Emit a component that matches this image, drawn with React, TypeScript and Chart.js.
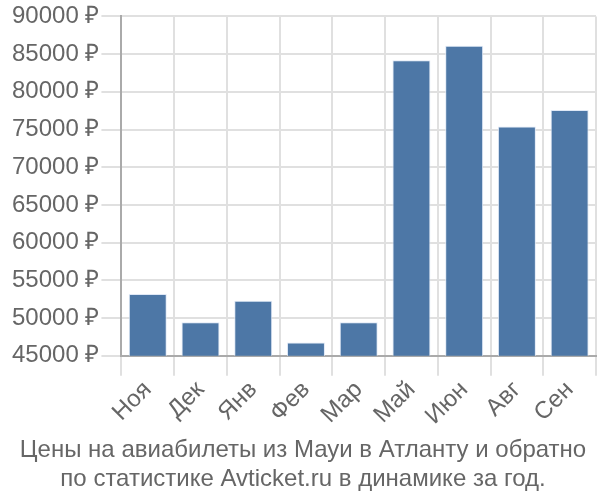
import React, { useEffect, useRef } from "react";
import { Chart, registerables } from "chart.js";

Chart.register(...registerables);

const categories = ["Ноя", "Дек", "Янв", "Фев", "Мар", "Май", "Июн", "Авг", "Сен"];
const prices = [53200, 49450, 52300, 46750, 49450, 84200, 86100, 75400, 77600];
const titleLines = [
  "Цены на авиабилеты из Мауи в Атланту и обратно",
  "по статистике Avticket.ru в динамике за год.",
];

export default function App() {
  const ref = useRef<HTMLCanvasElement | null>(null);
  useEffect(() => {
    if (!ref.current) return;
    const font = "'Liberation Sans', Arial, sans-serif";
    const chart = new Chart(ref.current, {
      type: "bar",
      data: {
        labels: categories,
        datasets: [
          {
            data: prices,
            backgroundColor: "#4d77a6",
            borderColor: "rgba(220,230,245,0.9)",
            borderWidth: 1,
            categoryPercentage: 1,
            barPercentage: 0.72,
          },
        ],
      },
      options: {
        animation: false,
        responsive: false,
        layout: { padding: { left: 10, right: 4, top: 4, bottom: 0 } },
        plugins: {
          legend: { display: false },
          tooltip: { enabled: false },
          title: {
            display: true,
            position: "bottom",
            text: titleLines,
            color: "#666",
            font: { family: font, size: 24, weight: "normal", lineHeight: 1.2 },
            padding: { top: 6, bottom: 6 },
          },
        },
        scales: {
          x: {
            grid: { color: "#e0e0e0", lineWidth: 2, tickLength: 20, offset: true },
            border: { color: "#aaa", width: 2 },
            ticks: {
              color: "#666",
              font: { family: font, size: 24 },
              maxRotation: 45,
              minRotation: 45,
              padding: 0,
            },
          },
          y: {
            min: 45000,
            max: 90000,
            grid: { color: "#e0e0e0", lineWidth: 2, tickLength: 20 },
            border: { color: "#aaa", width: 2 },
            ticks: {
              stepSize: 5000,
              color: "#666",
              font: { family: font, size: 24 },
              padding: 2,
              callback: (v: any) => `${v} ₽`,
            },
          },
        },
      },
    });
    return () => chart.destroy();
  }, []);
  return (
    <div style={{ position: "fixed", left: 0, top: 0, width: 600, height: 500, background: "#fff" }}>
      <canvas ref={ref} width={600} height={500} style={{ width: 600, height: 500 }} />
    </div>
  );
}
